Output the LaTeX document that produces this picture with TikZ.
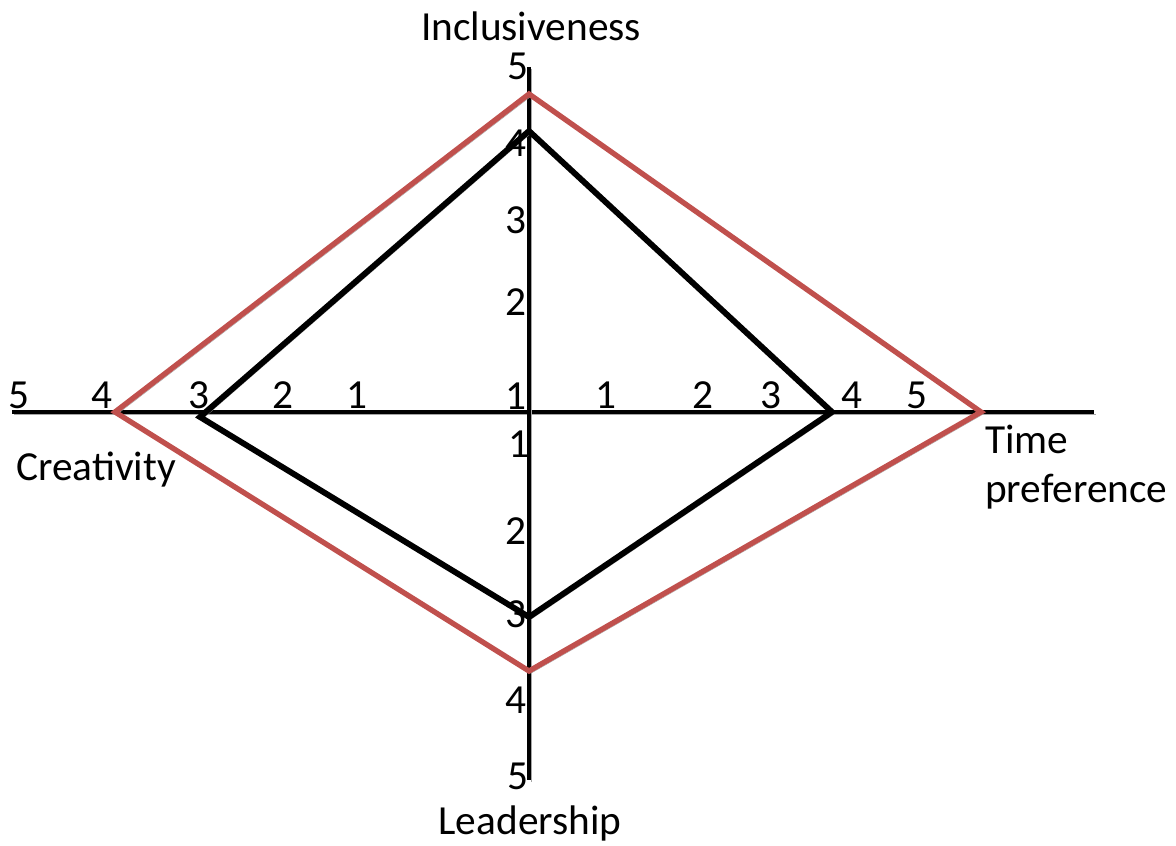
\documentclass[tikz,border=0pt]{standalone}
\usepackage{fontspec}
\setmainfont{Carlito}
\definecolor{offred}{RGB}{192,80,77}
\tikzset{
  shadowed/.style={preaction={draw=black!35, transform canvas={shift={(1.6pt,-1.6pt)}}}},
  axisline/.style={draw=black, line width=3.4pt, shadowed},
  redpoly/.style={draw=offred, line width=4pt, line join=miter, shadowed},
  blackpoly/.style={draw=black, line width=4.4pt, line join=miter, shadowed},
  lbl/.style={inner sep=0pt, font=\fontsize{31}{37}\selectfont},
  tick/.style={inner sep=0pt, font=\fontsize{31}{37}\selectfont},
}
\begin{document}
\begin{tikzpicture}[x=0.75pt,y=-0.75pt]
\useasboundingbox (0,0) rectangle (1176,845);
% axis ends
\coordinate (hL) at (12,412);
\coordinate (hR) at (1094,412);
\coordinate (vT) at (529,67);
\coordinate (vB) at (529,780);
% diamonds
\coordinate (rT) at (529,94);
\coordinate (rR) at (981,412);
\coordinate (rB) at (529,671);
\coordinate (rL) at (115,412);
\coordinate (bT) at (529,131);
\coordinate (bR) at (832,412);
\coordinate (bB) at (529,617);
\coordinate (bL) at (200,417);
\draw[axisline] (hL) -- (hR);
\draw[axisline] (vT) -- (vB);
\draw[redpoly] (rT) -- (rR) -- (rB) -- (rL) -- cycle;
\draw[blackpoly] (bT) -- (bR) -- (bB) -- (bL) -- cycle;
% vertical ticks
\node[tick] (v5) at (518,66) {5};
\node[tick] (v4) at (516,143) {4};
\node[tick] (v3) at (516,220) {3};
\node[tick] (v2) at (516,302) {2};
\node[tick] (v1) at (516,396) {1};
\node[tick] (w1) at (519,444) {1};
\node[tick] (w2) at (516,531) {2};
\node[tick] (w3) at (516,614) {3};
\node[tick] (w4) at (516,700) {4};
\node[tick] (w5) at (518,776) {5};
% horizontal ticks
\node[tick] (l5) at (19,395) {5};
\node[tick] (l4) at (102,395) {4};
\node[tick] (l3) at (199,395) {3};
\node[tick] (l2) at (283,395) {2};
\node[tick] (l1) at (357,395) {1};
\node[tick] (r1) at (606,395) {1};
\node[tick] (r2) at (703,395) {2};
\node[tick] (r3) at (771,395) {3};
\node[tick] (r4) at (852,395) {4};
\node[tick] (r5) at (917,395) {5};
% axis titles
\node[lbl, anchor=base] (incl) at (531,41) {Inclusiveness};
\node[lbl, anchor=base] (lead) at (530,834) {Leadership};
\node[lbl, anchor=base west] (crea) at (16,480) {Creativity};
\node[lbl, anchor=base west] (time1) at (985,453) {Time};
\node[lbl, anchor=base west] (time2) at (985,502) {preference};
\end{tikzpicture}
\end{document}
